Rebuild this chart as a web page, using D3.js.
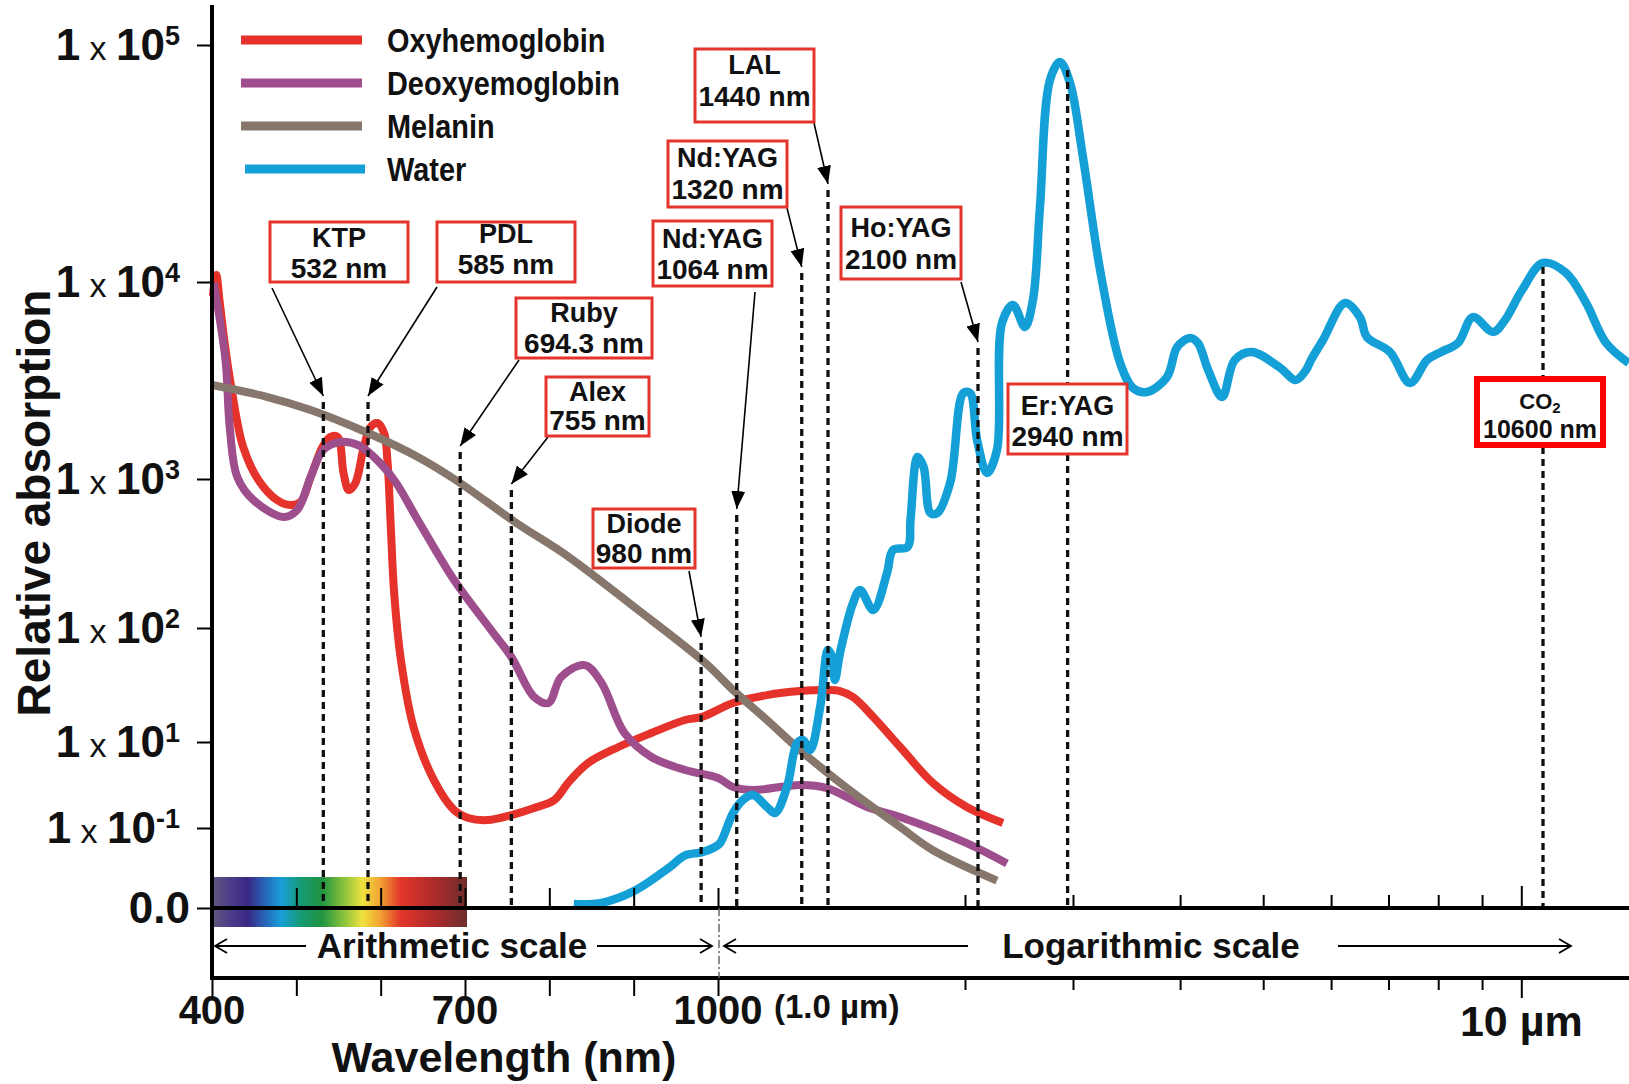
<!DOCTYPE html>
<html><head><meta charset="utf-8">
<script src="https://cdn.jsdelivr.net/npm/d3@7"></script>
<style>
body{margin:0;background:#fff}
svg{display:block;font-family:"Liberation Sans",Arial,sans-serif}
</style>
</head><body>
<svg id="chart" width="1629" height="1084"></svg>
<script>
// ---------------- DATA ----------------
const seriesNames = ["Oxyhemoglobin", "Deoxyemoglobin", "Melanin", "Water"];

// [wavelength nm, relative absorption]
const oxyhemoglobin = [[401,8500],[405,10700],[409,8000],[415,4900],[424,2730],[437,1453],[455,985],[477,723],[493,669],[505,701],[517,1024],[531,1453],[540,1634],[549,1634],[556,1073],[562,843],[570,939],[580,1453],[588,1837],[596,1924],[604,1712],[608,1248],[612,477],[616,172],[624,52.4],[639,13.5],[663,1.31],[687,0.262],[704,0.171],[727,0.153],[755,0.2],[782,0.292],[806,0.448],[823,1.17],[846,3.25],[882,7.65],[921,12.0],[961,15.6],[981,16.6],[1051,22.0],[1176,25.8],[1312,28.0],[1435,28.6],[1482,28.0],[1529,24.8],[1605,16.6],[1712,7.65],[1852,1.11],[2013,0.308],[2306,0.131]];

const deoxyhemoglobin = [[402,9900],[416,4018],[421,1837],[430,1024],[449,723],[485,556],[501,619],[517,1024],[532,1403],[552,1541],[573,1488],[592,1294],[616,985],[644,531],[687,210],[731,96],[755,55.7],[782,24.8],[799,22.0],[814,37.2],[842,47.3],[862,32.9],[889,12.0],[921,4.48],[961,2.23],[1000,1.46],[1051,0.899],[1123,0.765],[1312,1.0],[1435,0.85],[1581,0.308],[1712,0.18],[2013,0.0646],[2341,0.036]];

const melanin = [[400,3000],[466,2607],[517,2240],[585,1712],[644,1294],[689,985],[761,507],[823,300],[901,138],[985,49.3],[1051,28.6],[1176,15.6],[1312,6.52],[1457,1.53],[1581,0.381],[1712,0.105],[1852,0.0527],[2255,0.022]];

const water = [[829,0.0112],[862,0.0116],[901,0.0164],[942,0.032],[961,0.0455],[981,0.0497],[996,0.0575],[1007,0.0646],[1051,0.223],[1086,0.448],[1123,0.585],[1176,0.308],[1208,0.223],[1257,0.899],[1300,9.48],[1326,10.4],[1357,6.52],[1403,20.3],[1440,64.1],[1454,55.7],[1464,35.0],[1482,60.4],[1529,147],[1555,180],[1605,132],[1659,234],[1683,334],[1743,350],[1755,531],[1785,1294],[1811,1151],[1841,591],[1872,591],[1931,955],[1992,2733],[2038,2733],[2093,1578],[2172,1073],[2255,1403],[2298,6192],[2396,7643],[2504,5909],[2581,8101],[2650,20730],[2751,71100],[2857,84800],[2967,69150],[3081,33680],[3231,10920],[3405,3880],[3524,2897],[3659,2764],[3862,3297],[3969,4677],[4110,5195],[4196,4900],[4313,3575],[4477,2607],[4632,4018],[4849,4414],[5219,3703],[5459,3181],[5610,3575],[5685,4018],[5871,5077],[6229,7825],[6483,6637],[6606,5257],[7027,4414],[7417,3072],[7765,4018],[8062,4414],[8437,4900],[8781,6637],[9271,5572],[9573,6413],[10020,9108],[10600,12030],[11280,10920],[11900,7825],[12560,4900],[13340,3880]];

const laserNames = ["KTP","PDL","Ruby","Alex","Diode","Nd:YAG","Nd:YAG","LAL","Ho:YAG","Er:YAG","CO2"];
const laserWavelengths = [532,585,694.3,755,980,1064,1320,1440,2100,2940,10600];
const laserLabels = ["532 nm","585 nm","694.3 nm","755 nm","980 nm","1064 nm","1320 nm","1440 nm","2100 nm","2940 nm","10600 nm"];
const laserLineTops = [2460,2460,1371,843,73.9,573,10920,24450,4625,78470,11560];

const yTickValues = [0.01, 0.1, 10, 100, 1000, 10000, 100000];
const yTickExponents = [null, "-1", "1", "2", "3", "4", "5"];
const xArithTicks = [400,500,600,700,800,900,1000];
const xArithLabels = [[400,"400"],[700,"700"],[1000,"1000"]];
const xLogTicks = [2000,3000,4000,5000,6000,7000,8000,9000,10000];
const xMajorLogTick = 10000;

// ---------------- STYLE / LAYOUT ----------------
const seriesColors = ["#e5322a","#9e4e8c","#86766b","#14a0d7"];
const boxLayout = [
  [270,222,138,60,25,56],
  [437,222,138,60,21,52],
  [516,298,136,60,24,55],
  [546,377,103,59,24,53],
  [593,509,102,59,24,54],
  [653,221,119,65,27,58],
  [668,141,119,66,26,58],
  [695,49,119,73,25,57],
  [841,207,120,72,30,62],
  [1008,384,119,70,31,62],
  [1477,379,126,66,30,59]
];
const arrowFrom = [[272,288],[437,287],[519,360],[548,437],[689,571],[755,292],[787,208],[814,123],[961,282],null,null];

const svg = d3.select("#chart");
const W = 1629;
const xLin = d3.scaleLinear().domain([400,1000]).range([212,718]);
const xLog = d3.scaleLog().domain([1000,1440,2000,3000,10600]).range([718,828,965,1073,1543]);
const x = v => v <= 1000 ? xLin(v) : xLog(v);
const y = d3.scaleLog().domain(yTickValues).range([908,828,742,628,479,282,45]);
const y0 = y(yTickValues[0]);
const yLow = 978;

const defs = svg.append("defs");
const grad = defs.append("linearGradient").attr("id","spec").attr("x1","0%").attr("x2","100%");
[["0%","#64577f"],["8%","#4a3a8a"],["14%","#3a2784"],["20%","#2a5fb2"],["27%","#189fd9"],["35%","#169a72"],["43%","#1f9442"],["52%","#8ec43d"],["59%","#efe23e"],["66%","#f2a133"],["74%","#e2372b"],["86%","#b32a2a"],["100%","#6d2e2e"]]
  .forEach(s => grad.append("stop").attr("offset",s[0]).attr("stop-color",s[1]));
defs.append("marker").attr("id","ah").attr("viewBox","0 -8 20 16").attr("refX",18).attr("refY",0)
  .attr("markerWidth",20).attr("markerHeight",16).attr("markerUnits","userSpaceOnUse").attr("orient","auto")
  .append("path").attr("d","M0,-7L18,0L0,7Z").attr("fill","#000");
defs.append("marker").attr("id","chev").attr("viewBox","-14 -8 16 16").attr("refX",0).attr("refY",0)
  .attr("markerWidth",16).attr("markerHeight",16).attr("markerUnits","userSpaceOnUse").attr("orient","auto")
  .append("path").attr("d","M-12,-7L0,0L-12,7").attr("fill","none").attr("stroke","#000").attr("stroke-width",1.8);

// spectrum bar
svg.append("rect").attr("x",x(400)).attr("y",y0-31).attr("width",x(700)-x(400)+2).attr("height",50).attr("fill","url(#spec)");

// curves
const line = d3.line().x(d => x(d[0])).y(d => y(d[1])).curve(d3.curveCatmullRom.alpha(0.5));
[oxyhemoglobin, deoxyhemoglobin, melanin, water].forEach((s,i) => {
  svg.append("path").datum(s).attr("d",line).attr("fill","none").attr("stroke",seriesColors[i])
    .attr("stroke-width", i===3 ? 8.5 : 8).attr("stroke-linejoin","round").attr("stroke-linecap","butt");
});

// laser marker lines
laserWavelengths.forEach((w,i) => {
  svg.append("line").attr("x1",x(w)).attr("x2",x(w)).attr("y1",y(laserLineTops[i])).attr("y2",y0)
    .attr("stroke","#111").attr("stroke-width",3.3).attr("stroke-dasharray","7,5");
});

// axes frame
svg.append("line").attr("x1",212).attr("x2",212).attr("y1",5).attr("y2",yLow+2).attr("stroke","#000").attr("stroke-width",4);
svg.append("line").attr("x1",210).attr("x2",W).attr("y1",y0).attr("y2",y0).attr("stroke","#000").attr("stroke-width",4);
svg.append("line").attr("x1",210).attr("x2",W).attr("y1",yLow).attr("y2",yLow).attr("stroke","#000").attr("stroke-width",4);
svg.append("line").attr("x1",x(1000)+1).attr("x2",x(1000)+1).attr("y1",y0).attr("y2",yLow)
  .attr("stroke","#666").attr("stroke-width",1.5).attr("stroke-dasharray","8,3,2,3");

function styleAxis(g){ g.select(".domain").remove(); g.selectAll(".tick line").attr("stroke","#000").attr("stroke-width",2); g.selectAll(".tick text").remove(); }
svg.append("g").attr("transform",`translate(0,${y0})`).call(d3.axisTop(xLin).tickValues(xArithTicks).tickSize(20)).call(styleAxis);
svg.append("g").attr("transform",`translate(0,${y0})`).call(d3.axisTop(xLog).tickValues(xLogTicks).tickSize(13)).call(styleAxis)
  .selectAll(".tick line").attr("y2", d => d===xMajorLogTick ? -22 : -13);
svg.append("g").attr("transform",`translate(0,${yLow})`).call(d3.axisBottom(xLin).tickValues(xArithTicks).tickSize(18)).call(styleAxis);
svg.append("g").attr("transform",`translate(0,${yLow})`).call(d3.axisBottom(xLog).tickValues(xLogTicks).tickSize(12)).call(styleAxis)
  .selectAll(".tick line").attr("y2", d => d===xMajorLogTick ? 20 : 12);
svg.append("g").attr("transform","translate(212,0)").call(d3.axisLeft(y).tickValues(yTickValues).tickSize(15)).call(styleAxis);

// y tick labels
yTickValues.forEach((v,i) => {
  const t = svg.append("text").attr("text-anchor","end").attr("fill","#111");
  if (yTickExponents[i] === null) {
    t.attr("x",190).attr("y",y(v)+15).attr("font-size",44).attr("font-weight","bold").text("0.0");
  } else {
    t.attr("x",180).attr("y",y(v)+15);
    t.append("tspan").attr("font-size",44).attr("font-weight","bold").text("1");
    t.append("tspan").attr("font-size",34).text(" x ");
    t.append("tspan").attr("font-size",44).attr("font-weight","bold").text("10");
    t.append("tspan").attr("font-size",27).attr("font-weight","bold").attr("dy",-15).text(yTickExponents[i]);
  }
});

// x tick labels
xArithLabels.forEach(([v,lab]) => {
  svg.append("text").attr("x",x(v)).attr("y",1024).attr("text-anchor","middle").attr("font-size",40).attr("font-weight","bold").attr("fill","#111").text(lab);
});
svg.append("text").attr("x",x(1000)+56).attr("y",1018).attr("font-size",33).attr("font-weight","bold").attr("fill","#111").text("(1.0 µm)");
svg.append("text").attr("x",xLog(xMajorLogTick)).attr("y",1036).attr("text-anchor","middle").attr("font-size",43).attr("font-weight","bold").attr("fill","#111").text("10 µm");

// scale arrows
function arrowLine(x1,x2,yy){ svg.append("line").attr("x1",x1).attr("x2",x2).attr("y1",yy).attr("y2",yy).attr("stroke","#000").attr("stroke-width",1.8).attr("marker-end","url(#chev)"); }
arrowLine(306,215,946); arrowLine(597,712,946);
arrowLine(968,724,946); arrowLine(1338,1571,946);
svg.append("text").attr("x",452).attr("y",958).attr("text-anchor","middle").attr("font-size",35).attr("font-weight","bold").attr("fill","#111").text("Arithmetic scale");
svg.append("text").attr("x",1151).attr("y",958).attr("text-anchor","middle").attr("font-size",35).attr("font-weight","bold").attr("fill","#111").text("Logarithmic scale");

// axis titles
svg.append("text").attr("x",504).attr("y",1072).attr("text-anchor","middle").attr("font-size",43).attr("font-weight","bold").attr("fill","#111").text("Wavelength (nm)");
svg.append("text").attr("transform","translate(50,503) rotate(-90)").attr("text-anchor","middle").attr("font-size",46).attr("font-weight","bold").attr("fill","#111").text("Relative absorption");

// annotation boxes
laserNames.forEach((n,i) => {
  const [bx,by,bw,bh,b1,b2] = boxLayout[i];
  const isCO2 = n === "CO2";
  if (arrowFrom[i]) {
    svg.append("line").attr("x1",arrowFrom[i][0]).attr("y1",arrowFrom[i][1])
      .attr("x2",x(laserWavelengths[i])).attr("y2",y(laserLineTops[i])-6)
      .attr("stroke","#000").attr("stroke-width",1.6).attr("marker-end","url(#ah)");
  }
  svg.append("rect").attr("x",bx).attr("y",by).attr("width",bw).attr("height",bh).attr("fill","#fff")
    .attr("stroke", isCO2 ? "#ff0000" : "#e5342c").attr("stroke-width", isCO2 ? 6 : 3);
  const cx = bx + bw/2;
  const t1 = svg.append("text").attr("x",cx).attr("y",by+b1).attr("text-anchor","middle").attr("font-weight","bold").attr("fill","#111");
  if (isCO2) {
    t1.attr("font-size",22);
    t1.append("tspan").text("CO");
    t1.append("tspan").attr("font-size",15).attr("dy",4).text("2");
  } else {
    t1.attr("font-size",27).text(n);
  }
  svg.append("text").attr("x",cx).attr("y",by+b2).attr("text-anchor","middle").attr("font-weight","bold")
    .attr("font-size", isCO2 ? 25 : 28).attr("fill","#111").text(laserLabels[i]);
});

// legend
seriesNames.forEach((n,i) => {
  const ly = 40 + i*43;
  svg.append("line").attr("x1",i===3?245:241).attr("x2",i===3?365:362).attr("y1",ly).attr("y2",ly)
    .attr("stroke",seriesColors[i]).attr("stroke-width",9);
  svg.append("text").attr("transform",`translate(387,${ly+12}) scale(0.85,1)`).attr("font-size",34).attr("font-weight","bold")
    .attr("fill","#111").text(n);
});
</script>
</body></html>
